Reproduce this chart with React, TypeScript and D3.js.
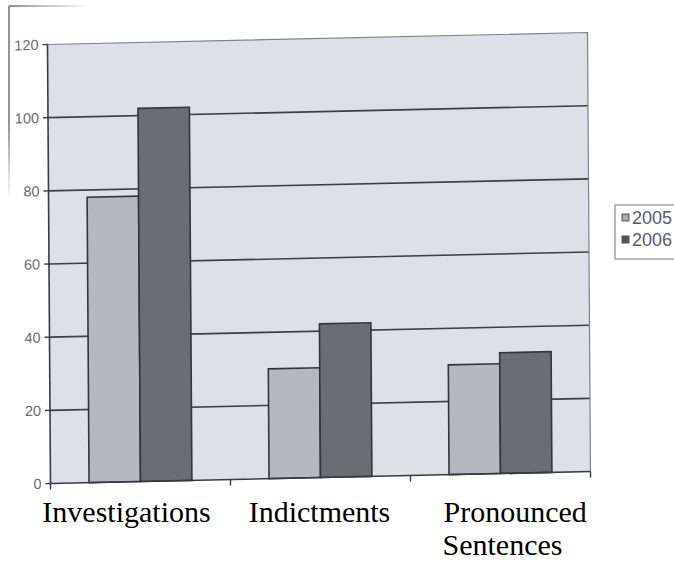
import * as d3 from "d3";

const categories = ["Investigations", "Indictments", "Pronounced Sentences"];
const categoryLines = [["Investigations"], ["Indictments"], ["Pronounced", "Sentences"]];
const years = ["2005", "2006"];
const values2005 = [78, 30, 30];
const values2006 = [102, 42, 33];
const yTicks = [0, 20, 40, 60, 80, 100, 120];

const series = [
    { year: years[0], values: values2005, fill: "#b6b7c0", key: "#a9aab5" },
    { year: years[1], values: values2006, fill: "#6c6c73", key: "#4d5659" },
];

// plot box in its own coords, then pushed onto the (slightly skewed) scanned quad
const W = 540;
const H = 439;
const skew = "matrix(1,-0.0222,0.0068,1,47.5,44.5)";

export default function App() {
    const x0 = d3.scaleBand<string>().domain(categories).range([0, W]).paddingInner(0).paddingOuter(0);
    const x1 = d3
        .scaleBand<string>()
        .domain(years)
        .range([0, x0.bandwidth()])
        .paddingInner(0)
        .paddingOuter(0.75);
    const y = d3.scaleLinear().domain([0, 120]).range([H, 0]);

    // category label centres on screen (labels were typed under the chart, not skewed)
    const labelX = (c: string) => 47.5 + (x0(c) ?? 0) + x0.bandwidth() / 2 + 0.0068 * H;
    const labelDx = [-14, -1, -57];

    return (
        <svg
            width={674}
            height={565}
            style={{ position: "absolute", left: 0, top: 0, display: "block", background: "#ffffff" }}
        >
            <defs>
                <linearGradient id="fadeX" gradientUnits="userSpaceOnUse" x1={9} y1={0} x2={90} y2={0}>
                    <stop offset="0" stopColor="#6e6e7a" stopOpacity={1} />
                    <stop offset="1" stopColor="#6e6e7a" stopOpacity={0} />
                </linearGradient>
                <linearGradient id="fadeY" gradientUnits="userSpaceOnUse" x1={0} y1={6} x2={0} y2={200}>
                    <stop offset="0.6" stopColor="#6e6e7a" stopOpacity={1} />
                    <stop offset="1" stopColor="#6e6e7a" stopOpacity={0} />
                </linearGradient>
            </defs>

            {/* remains of the chart-area border */}
            <line x1={9} y1={6} x2={90} y2={6} stroke="url(#fadeX)" strokeWidth={1.5} />
            <line x1={9} y1={6} x2={9} y2={200} stroke="url(#fadeY)" strokeWidth={1.5} />

            <g transform={skew}>
                <rect x={0} y={0} width={W} height={H} fill="#dedfe7" />

                {yTicks.slice(1, -1).map(t => (
                    <line key={t} x1={0} x2={W} y1={y(t)} y2={y(t)} stroke="#3e3e4a" strokeWidth={1.6} />
                ))}

                {/* top / right frame */}
                <path d={`M0,${y(120)}H${W}V${H}`} fill="none" stroke="#80808c" strokeWidth={1.2} />

                {categories.map((c, i) =>
                    series.map(s => (
                        <rect
                            key={c + s.year}
                            x={(x0(c) ?? 0) + (x1(s.year) ?? 0)}
                            y={y(s.values[i])}
                            width={x1.bandwidth()}
                            height={H - y(s.values[i])}
                            fill={s.fill}
                            stroke="#34343c"
                            strokeWidth={1.6}
                        />
                    ))
                )}

                {/* axes */}
                <line x1={0} x2={0} y1={0} y2={H} stroke="#3a3a46" strokeWidth={1.6} />
                <line x1={0} x2={W} y1={H} y2={H} stroke="#3a3a46" strokeWidth={1.6} />
                {yTicks.map(t => (
                    <g key={t}>
                        <line x1={-5} x2={0} y1={y(t)} y2={y(t)} stroke="#3a3a46" strokeWidth={1.4} />
                        <text
                            x={-9}
                            y={y(t)}
                            dy="0.36em"
                            textAnchor="end"
                            fontFamily="Liberation Sans, Arial, sans-serif"
                            fontSize={14.5}
                            fill="#6a6a78"
                        >
                            {t}
                        </text>
                    </g>
                ))}
                {[...categories.map(c => x0(c) ?? 0), W].map((v, i) => (
                    <line key={i} x1={v} x2={v} y1={H} y2={H + 6} stroke="#3a3a46" strokeWidth={1.4} />
                ))}
            </g>

            {/* legend */}
            <g fontFamily="Liberation Sans, Arial, sans-serif" fontSize={18} fill="#5c5c6a">
                <rect x={615} y={205} width={80} height={54} fill="#ffffff" stroke="#8a8a96" strokeWidth={1.2} />
                {series.map((s, i) => (
                    <g key={s.year} transform={`translate(0,${i * 22})`}>
                        <rect x={622} y={214} width={7} height={7} fill={s.key} stroke="#55555f" strokeWidth={1} />
                        <text x={632} y={224}>
                            {s.year}
                        </text>
                    </g>
                ))}
            </g>

            {/* category labels */}
            <g fontFamily="Liberation Serif, Times New Roman, serif" fontSize={30} fill="#000000">
                {categories.map((c, i) => (
                    <text
                        key={c}
                        x={labelX(c) + labelDx[i]}
                        y={522}
                        textAnchor={categoryLines[i].length > 1 ? "start" : "middle"}
                    >
                        {categoryLines[i].map((line, j) => (
                            <tspan key={line} x={labelX(c) + labelDx[i] - j} dy={j === 0 ? 0 : 33}>
                                {line}
                            </tspan>
                        ))}
                    </text>
                ))}
            </g>
        </svg>
    );
}
